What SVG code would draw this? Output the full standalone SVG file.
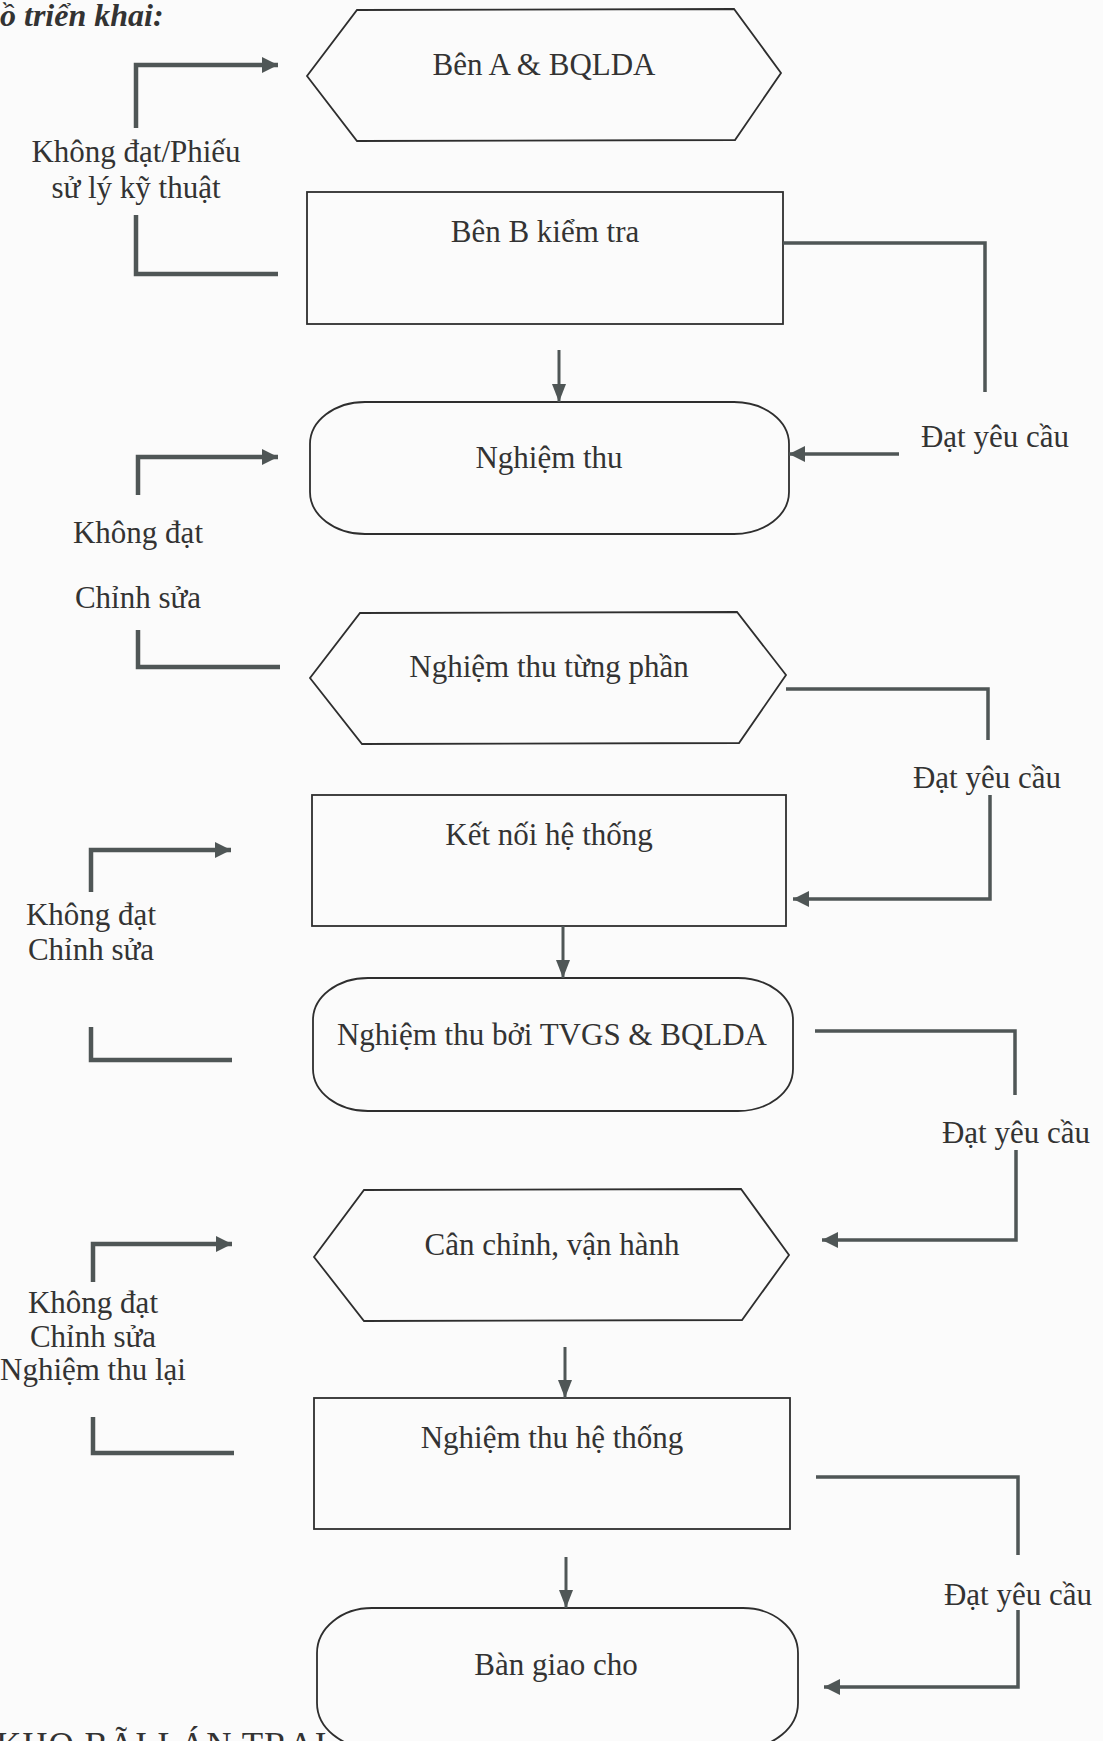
<svg xmlns="http://www.w3.org/2000/svg" width="1103" height="1741" viewBox="0 0 1103 1741">
<defs>
<style>
.node{fill:none;stroke:#2e2e2e;stroke-width:1.8}
.t{font-family:"Liberation Serif","Times New Roman",serif;font-size:31px;fill:#333;text-anchor:middle}
.lbl{font-family:"Liberation Serif","Times New Roman",serif;font-size:31px;fill:#333;text-anchor:middle}
.thick{fill:none;stroke:#4f5656;stroke-width:4.5}
.mid{fill:none;stroke:#4f5656;stroke-width:3.5}
.thin{fill:none;stroke:#4f5656;stroke-width:3}
</style>
<marker id="ah" markerUnits="userSpaceOnUse" markerWidth="16" markerHeight="16" refX="16" refY="8" orient="auto" viewBox="0 0 16 16">
<path d="M0,0 L16,8 L0,16 z" fill="#4f5656"/>
</marker>
<marker id="ah2" markerUnits="userSpaceOnUse" markerWidth="18" markerHeight="14" refX="18" refY="7" orient="auto" viewBox="0 0 18 14">
<path d="M0,0 L18,7 L0,14 z" fill="#4f5656"/>
</marker>
</defs>
<rect x="0" y="0" width="1103" height="1741" fill="#fbfbfb"/>
<text x="0" y="26" style="font-family:'Liberation Serif','Times New Roman',serif;font-size:32px;font-weight:bold;font-style:italic;fill:#333">ồ triển khai:</text>
<text x="-4" y="1757" style="font-family:'Liberation Serif','Times New Roman',serif;font-size:35px;fill:#333;letter-spacing:1px">KHO BÃI LÁN TRẠI</text>

<g id="n1"><polygon class="node" points="357,10 734,9 781,73 735,140 357,141 307,76"/><text class="t" x="544" y="75">Bên A &amp; BQLDA</text></g>
<g id="n2"><rect class="node" x="307" y="192" width="476" height="132"/><text class="t" x="545" y="242">Bên B kiểm tra</text></g>
<g id="n3"><rect class="node" x="310" y="402" width="479" height="132" rx="55" ry="42"/><text class="t" x="549" y="468">Nghiệm thu</text></g>
<g id="n4"><polygon class="node" points="360,613 737,612 786,675 739,743 362,744 310,678"/><text class="t" x="549" y="677">Nghiệm thu từng phần</text></g>
<g id="n5"><rect class="node" x="312" y="795" width="474" height="131"/><text class="t" x="549" y="845">Kết nối hệ thống</text></g>
<g id="n6"><rect class="node" x="313" y="978" width="480" height="133" rx="55" ry="42"/><text class="t" x="552" y="1045">Nghiệm thu bởi TVGS &amp; BQLDA</text></g>
<g id="n7"><polygon class="node" points="364,1190 741,1189 789,1255 742,1320 364,1321 314,1257"/><text class="t" x="552" y="1255">Cân chỉnh, vận hành</text></g>
<g id="n8"><rect class="node" x="314" y="1398" width="476" height="131"/><text class="t" x="552" y="1448">Nghiệm thu hệ thống</text></g>
<g id="n9"><rect class="node" x="317" y="1608" width="481" height="140" rx="55" ry="45"/><text class="t" x="556" y="1675">Bàn giao cho</text></g>

<g id="connectors">
<path class="thick" d="M136,128 V65 H278" marker-end="url(#ah)"/>
<path class="thick" d="M136,215 V274 H278"/>
<path class="thick" d="M138,495 V457 H278" marker-end="url(#ah)"/>
<path class="thick" d="M138,630 V667 H280"/>
<path class="thick" d="M91,892 V850 H231" marker-end="url(#ah)"/>
<path class="thick" d="M91,1027 V1060 H232"/>
<path class="thick" d="M93,1282 V1244 H232" marker-end="url(#ah)"/>
<path class="thick" d="M93,1417 V1453 H234"/>

<path class="mid" d="M783,243 H985 V392"/>
<path class="mid" d="M899,454 H789" marker-end="url(#ah)"/>
<path class="mid" d="M786,689 H988 V740"/>
<path class="mid" d="M990,795 V899 H793" marker-end="url(#ah)"/>
<path class="mid" d="M815,1031 H1015 V1095"/>
<path class="mid" d="M1016,1150 V1240 H822" marker-end="url(#ah)"/>
<path class="mid" d="M816,1477 H1018 V1555"/>
<path class="mid" d="M1018,1610 V1687 H824" marker-end="url(#ah)"/>

<path class="thin" d="M559,350 V402" marker-end="url(#ah2)"/>
<path class="thin" d="M563,926 V978" marker-end="url(#ah2)"/>
<path class="thin" d="M565,1347 V1398" marker-end="url(#ah2)"/>
<path class="thin" d="M566,1557 V1608" marker-end="url(#ah2)"/>

<text class="lbl" x="136" y="162">Không đạt/Phiếu</text>
<text class="lbl" x="136" y="198">sử lý kỹ thuật</text>
<text class="lbl" x="138" y="543">Không đạt</text>
<text class="lbl" x="138" y="608">Chỉnh sửa</text>
<text class="lbl" x="91" y="925">Không đạt</text>
<text class="lbl" x="91" y="960">Chỉnh sửa</text>
<text class="lbl" x="93" y="1313">Không đạt</text>
<text class="lbl" x="93" y="1347">Chỉnh sửa</text>
<text class="lbl" x="93" y="1380">Nghiệm thu lại</text>
<text class="lbl" x="995" y="447">Đạt yêu cầu</text>
<text class="lbl" x="987" y="788">Đạt yêu cầu</text>
<text class="lbl" x="1016" y="1143">Đạt yêu cầu</text>
<text class="lbl" x="1018" y="1605">Đạt yêu cầu</text>
</g>
</svg>
